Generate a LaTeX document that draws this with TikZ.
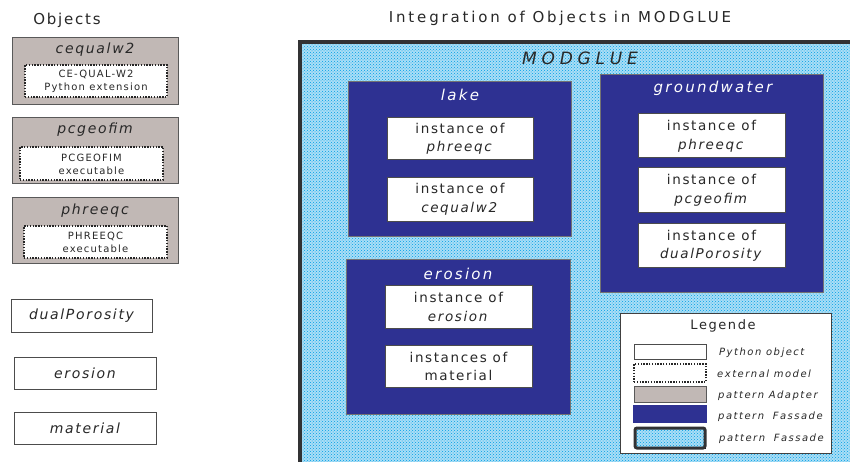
\documentclass[tikz,border=0pt]{standalone}
\usepackage{fontspec}
\setmainfont[LetterSpace=12]{DejaVu Sans}
\usetikzlibrary{patterns}
\definecolor{navy}{RGB}{46,49,146}
\definecolor{adgray}{RGB}{193,184,181}
\definecolor{txt}{RGB}{40,40,40}
\definecolor{patbg}{RGB}{170,222,246}
\definecolor{patfg}{RGB}{0,158,228}
\definecolor{frame}{RGB}{50,50,52}
\tikzset{
  box/.style={inner sep=0pt, outer sep=0pt},
  adapter/.style={box, fill=adgray, draw=black!65, line width=0.8pt},
  extbox/.style={box, fill=white, draw=black!85, line width=1.4pt, dash pattern=on 1.4pt off 1.4pt},
  pyobj/.style={box, fill=white, draw=black!70, line width=0.8pt},
  fassade/.style={box, fill=navy, draw=black!55, line width=0.6pt},
  pat/.style={fill=patbg, postaction={pattern=crosshatch dots, pattern color=patfg}},
  lbl/.style={text=txt, inner sep=0pt},
  head/.style={lbl, font=\fontsize{15}{18}\selectfont},
  smalltxt/.style={lbl, align=center, font=\fontsize{10}{13}\selectfont},
  insttxt/.style={lbl, align=center, font=\fontsize{13.5}{18.5}\selectfont},
  ititle/.style={lbl, font=\fontsize{14}{16}\selectfont\itshape},
  wtitle/.style={inner sep=0pt, text=white, font=\fontsize{15}{17}\selectfont\itshape\addfontfeature{LetterSpace=15}},
  legtxt/.style={lbl, anchor=west, font=\fontsize{10}{12}\selectfont\itshape\addfontfeature{LetterSpace=15}},
}
\begin{document}
\begin{tikzpicture}[x=1pt,y=-1pt]
\useasboundingbox (0,0) rectangle (850,462);
\fill[white] (0,0) rectangle (850,462);

% headings
\node[head] (hobj) at (67,20) {Objects};
\node[head, font=\fontsize{15}{18}\selectfont\addfontfeature{LetterSpace=19}] (hint) at (560,18) {Integration of Objects in MODGLUE};

% left column: adapters
\node[adapter, minimum width=166pt, minimum height=67pt] (cqbox) at (95,70.5) {};
\node[ititle] (cqt) at (95,50) {cequalw2};
\node[extbox, minimum width=142pt, minimum height=32pt] (cqext) at (96,81) {};
\node[smalltxt] (cqtx) at (96,81.5) {CE-QUAL-W2\\Python extension};

\node[adapter, minimum width=166pt, minimum height=66pt] (pcbox) at (95,150) {};
\node[ititle] (pct) at (95,130) {pcgeofim};
\node[extbox, minimum width=143pt, minimum height=33pt] (pcext) at (91.5,163.5) {};
\node[smalltxt] (pctx) at (91.5,164) {PCGEOFIM\\executable};

\node[adapter, minimum width=166pt, minimum height=66pt] (phbox) at (95,230) {};
\node[ititle] (pht) at (95,211) {phreeqc};
\node[extbox, minimum width=143pt, minimum height=32pt] (phext) at (95.5,242) {};
\node[smalltxt] (phtx) at (95.5,242) {PHREEQC\\executable};

% left column: python objects
\node[pyobj, minimum width=141pt, minimum height=33pt, font=\fontsize{14}{16}\selectfont\itshape, text=txt] (dp) at (81.5,315.5) {dualPorosity};
\node[pyobj, minimum width=142pt, minimum height=32pt, font=\fontsize{14}{16}\selectfont\itshape, text=txt] (er) at (85,373) {erosion};
\node[pyobj, minimum width=142pt, minimum height=32pt, font=\fontsize{14}{16}\selectfont\itshape, text=txt] (ma) at (85,428) {material};

% MODGLUE frame
\path[pat] (300,42) rectangle (880,490);
\draw[frame, line width=4pt] (300,490) -- (300,42) -- (880,42);
\node[lbl, font=\fontsize{17}{19}\selectfont\itshape\addfontfeature{LetterSpace=28}] (mg) at (580,58) {MODGLUE};

% lake
\node[fassade, minimum width=223pt, minimum height=155pt] (lake) at (460,159) {};
\node[wtitle] (laket) at (460,95) {lake};
\node[pyobj, minimum width=146pt, minimum height=42pt] (l1) at (460,138) {};
\node[insttxt] (l1t) at (460,139) {instance of\\\textit{phreeqc}};
\node[pyobj, minimum width=146pt, minimum height=44pt] (l2) at (460,199) {};
\node[insttxt] (l2t) at (460,199.5) {instance of\\\textit{cequalw2}};

% groundwater
\node[fassade, minimum width=223pt, minimum height=218pt] (gw) at (711.5,183) {};
\node[wtitle] (gwt) at (713,88) {groundwater};
\node[pyobj, minimum width=147pt, minimum height=44pt] (g1) at (711.5,135) {};
\node[insttxt] (g1t) at (711.5,136.5) {instance of\\\textit{phreeqc}};
\node[pyobj, minimum width=147pt, minimum height=45pt] (g2) at (711.5,189.5) {};
\node[insttxt] (g2t) at (711.5,190.5) {instance of\\\textit{pcgeofim}};
\node[pyobj, minimum width=147pt, minimum height=44pt] (g3) at (711.5,245) {};
\node[insttxt] (g3t) at (711.5,246) {instance of\\\textit{dualPorosity}};

% erosion
\node[fassade, minimum width=224pt, minimum height=155pt] (ero) at (458,336.5) {};
\node[wtitle] (erot) at (458,274) {erosion};
\node[pyobj, minimum width=147pt, minimum height=43pt] (e1) at (458.5,306.5) {};
\node[insttxt] (e1t) at (458.5,307) {instance of\\\textit{erosion}};
\node[pyobj, minimum width=147pt, minimum height=42pt] (e2) at (458.5,366) {};
\node[insttxt] (e2t) at (458.5,366.5) {instances of\\material};

% legend
\node[pyobj, draw=black!75, minimum width=211pt, minimum height=140pt] (leg) at (725.5,383) {};
\node[lbl, font=\fontsize{13}{15}\selectfont] (legt) at (723,326) {Legende};
\node[pyobj, minimum width=72pt, minimum height=15pt] (s1) at (670,351.5) {};
\node[extbox, minimum width=72pt, minimum height=18pt] (s2) at (670,373) {};
\node[adapter, minimum width=72pt, minimum height=16pt] (s3) at (670,394) {};
\node[box, fill=navy, minimum width=74pt, minimum height=18pt] (s4) at (670,414) {};
\draw[pat] (635,428) rectangle (705,448);
\draw[frame, line width=3pt, rounded corners=2pt] (635,428) rectangle (705,448);
\coordinate (s5) at (670,438);
\node[legtxt] (l1l) at (719,353) {Python object};
\node[legtxt] (l2l) at (717,374) {external model};
\node[legtxt] (l3l) at (718,396) {pattern Adapter};
\node[legtxt] (l4l) at (718,417) {pattern\hspace{4pt} Fassade};
\node[legtxt] (l5l) at (719,439) {pattern\hspace{4pt} Fassade};
\end{tikzpicture}
\end{document}
